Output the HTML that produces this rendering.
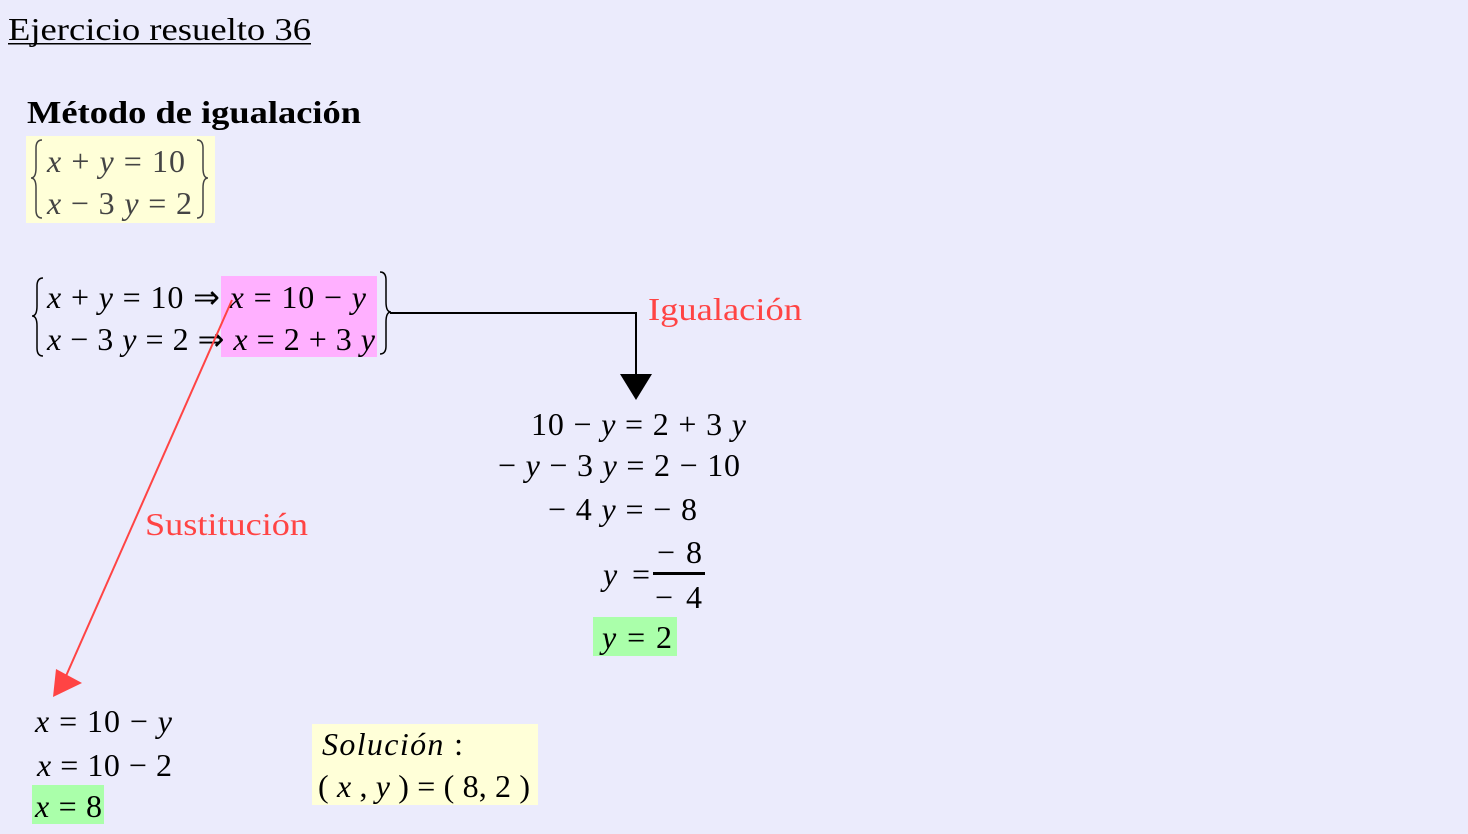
<!DOCTYPE html>
<html><head><meta charset="utf-8"><style>
html,body{margin:0;padding:0;background:#ebebfc;}
svg{display:block;font-family:"Liberation Serif",serif;}
.m{font-size:32px;fill:#000;}
</style></head><body>
<svg width="1468" height="834" viewBox="0 0 1468 834">
<rect width="1468" height="834" fill="#ebebfc"/>
<text x="8" y="40" font-size="32" textLength="303" lengthAdjust="spacingAndGlyphs">Ejercicio resuelto 36</text>
<rect x="8" y="43" width="303" height="1.5" fill="#000"/>
<text x="27" y="123" font-size="32" font-weight="bold" textLength="334" lengthAdjust="spacingAndGlyphs">Método de igualación</text>

<rect x="26" y="136" width="189" height="87" fill="#ffffd8"/>
<g font-size="32" fill="#444">
<text x="47" y="172" textLength="138" lengthAdjust="spacing"><tspan font-style="italic">x</tspan> + <tspan font-style="italic">y</tspan> = 10</text>
<text x="47" y="214" textLength="145" lengthAdjust="spacing"><tspan font-style="italic">x</tspan> − 3 <tspan font-style="italic">y</tspan> = 2</text>
</g>
<path d="M42 140 q-6 0 -6 8 v20 q0 10 -5 10 q5 0 5 10 v22 q0 8 6 8" fill="none" stroke="#444" stroke-width="1.5"/>
<path d="M197 140 q6 0 6 8 v20 q0 10 5 10 q-5 0 -5 10 v22 q0 8 -6 8" fill="none" stroke="#444" stroke-width="1.5"/>

<rect x="221" y="276" width="156" height="81" fill="#ffb0ff"/>
<path d="M43 278 q-6 0 -6 8 v20 q0 10 -5 10 q5 0 5 10 v22 q0 8 6 8" fill="none" stroke="#000" stroke-width="1.5"/>
<path d="M380 272 q6 0 6 8 v22 q0 10 5 10 q-5 0 -5 10 v24 q0 8 -6 8" fill="none" stroke="#000" stroke-width="1.5"/>
<g class="m">
<text x="47" y="308" textLength="319" lengthAdjust="spacing"><tspan font-style="italic">x</tspan> + <tspan font-style="italic">y</tspan> = 10 ⇒ <tspan font-style="italic">x</tspan> = 10 − <tspan font-style="italic">y</tspan></text>
<text x="47" y="350" textLength="328" lengthAdjust="spacing"><tspan font-style="italic">x</tspan> − 3 <tspan font-style="italic">y</tspan> = 2 ⇒ <tspan font-style="italic">x</tspan> = 2 + 3 <tspan font-style="italic">y</tspan></text>
</g>
<polyline points="390,313 636,313 636,376" fill="none" stroke="#000" stroke-width="2"/>
<polygon points="620,374 652,374 636,400" fill="#000"/>
<text x="648" y="320" font-size="32" fill="#ff4444" textLength="154" lengthAdjust="spacingAndGlyphs">Igualación</text>

<line x1="232" y1="300" x2="66" y2="676" stroke="#ff4444" stroke-width="2"/>
<polygon points="56,669 82,683 53,697" fill="#ff4444"/>
<text x="145" y="535" font-size="32" fill="#ff4444" textLength="163" lengthAdjust="spacingAndGlyphs">Sustitución</text>

<g class="m">
<text x="531" y="435" textLength="215" lengthAdjust="spacing">10 − <tspan font-style="italic">y</tspan> = 2 + 3 <tspan font-style="italic">y</tspan></text>
<text x="498" y="476" textLength="242" lengthAdjust="spacing">− <tspan font-style="italic">y</tspan> − 3 <tspan font-style="italic">y</tspan> = 2 − 10</text>
<text x="548" y="520" textLength="149" lengthAdjust="spacing">− 4 <tspan font-style="italic">y</tspan> = − 8</text>
<text x="603" y="585" textLength="47" lengthAdjust="spacing"><tspan font-style="italic">y</tspan> =</text>
<text x="657" y="563" textLength="45" lengthAdjust="spacing">− 8</text>
<text x="655" y="608" textLength="47" lengthAdjust="spacing">− 4</text>
</g>
<rect x="653" y="572" width="52" height="3" fill="#000"/>
<rect x="593" y="617" width="84" height="39" fill="#aaffaa"/>
<text class="m" x="602" y="648" textLength="70" lengthAdjust="spacing"><tspan font-style="italic">y</tspan> = 2</text>

<g class="m">
<text x="35" y="732" textLength="137" lengthAdjust="spacing"><tspan font-style="italic">x</tspan> = 10 − <tspan font-style="italic">y</tspan></text>
<text x="37" y="776" textLength="135" lengthAdjust="spacing"><tspan font-style="italic">x</tspan> = 10 − 2</text>
</g>
<rect x="32" y="785" width="72" height="39" fill="#aaffaa"/>
<text class="m" x="35" y="817" textLength="67" lengthAdjust="spacing"><tspan font-style="italic">x</tspan> = 8</text>

<rect x="312" y="724" width="226" height="81" fill="#ffffd8"/>
<g class="m">
<text x="322" y="755" textLength="141" lengthAdjust="spacing"><tspan font-style="italic">Solución</tspan> :</text>
<text x="318" y="797" textLength="212" lengthAdjust="spacing">( <tspan font-style="italic">x</tspan> ,  <tspan font-style="italic">y</tspan> ) = ( 8, 2 )</text>
</g>
</svg>
</body></html>
